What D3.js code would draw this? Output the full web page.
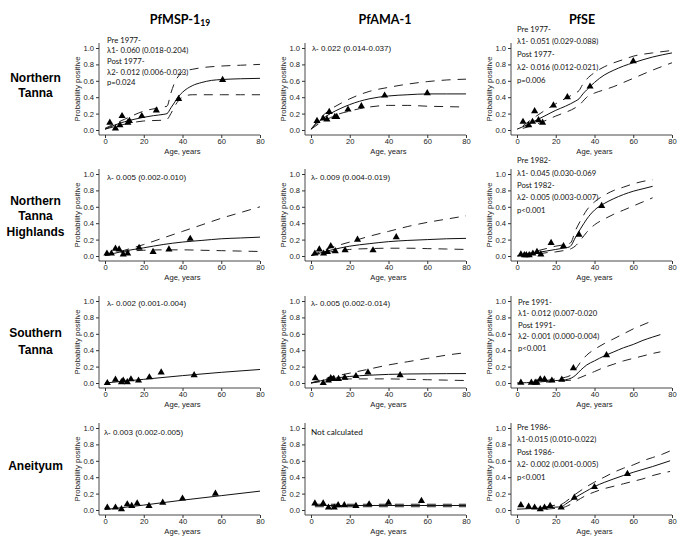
<!DOCTYPE html>
<html><head><meta charset="utf-8">
<script src="https://cdn.jsdelivr.net/npm/d3@7"></script>
<style>body{margin:0;background:#fff}svg{display:block}</style>
</head><body>
<svg id="c" width="685" height="542"></svg>
<script>
// ---------- labels ----------
const columnTitles = ["PfMSP-1", "PfAMA-1", "PfSE"];
const rowLabels = [["Northern","Tanna"],["Northern","Tanna","Highlands"],["Southern","Tanna"],["Aneityum"]];
const xTicks = [0,20,40,60,80];
const yTicks = [0,0.2,0.4,0.6,0.8,1.0];

// ---------- Northern Tanna ----------
const ntMspAge = [2.5,5.4,7.7,8.8,11.8,12.6,19,26.5,38,60.7];
const ntMspPos = [0.09,0.02,0.06,0.17,0.09,0.11,0.17,0.24,0.38,0.61];
const ntMspFitAge = [0,5,10,15,20,25,30,32,34,36,38,40,45,50,55,60,70,80];
const ntMspFit = [0.01,0.06,0.10,0.13,0.155,0.175,0.19,0.2,0.27,0.34,0.41,0.46,0.54,0.58,0.605,0.615,0.625,0.63];
const ntMspCiAge = [0,10,20,30,32,34,36,38,40,45,50,60,70,80];
const ntMspHi = [0.02,0.13,0.23,0.28,0.29,0.45,0.58,0.66,0.71,0.74,0.76,0.78,0.79,0.8];
const ntMspLo = [0.01,0.07,0.11,0.12,0.13,0.2,0.29,0.36,0.4,0.43,0.43,0.43,0.43,0.43];
const ntMspText = ["Pre 1977-","λ1- 0.060 (0.018-0.204)","Post 1977-","λ2- 0.012 (0.006-0.023)","p=0.024"];

const ntAmaAge = [3.1,6.3,8.2,9.4,12.3,13.3,19.1,26,38,60];
const ntAmaPos = [0.11,0.14,0.13,0.22,0.16,0.16,0.25,0.29,0.42,0.45];
const ntAmaFitAge = [0,5,10,15,20,25,30,40,50,60,70,80];
const ntAmaFit = [0.01,0.12,0.2,0.26,0.31,0.35,0.38,0.415,0.43,0.44,0.44,0.44];
const ntAmaHi = [0.01,0.15,0.25,0.32,0.38,0.43,0.47,0.52,0.56,0.59,0.61,0.62];
const ntAmaLo = [0.01,0.09,0.15,0.2,0.23,0.26,0.28,0.3,0.3,0.29,0.285,0.28];
const ntAmaText = ["λ- 0.022 (0.014-0.037)"];

const ntSeAge = [3.1,6,8,9.1,11.1,13.2,18.8,26,37.7,60];
const ntSePos = [0.10,0.06,0.10,0.23,0.12,0.09,0.30,0.40,0.53,0.84];
const ntSeFitAge = [0,5,10,15,20,25,30,32,34,36,40,45,50,55,60,70,80];
const ntSeFit = [0.01,0.06,0.12,0.18,0.24,0.29,0.35,0.38,0.44,0.49,0.58,0.67,0.73,0.78,0.82,0.89,0.94];
const ntSeCiAge = [3,10,20,30,32,34,36,40,45,50,55,60,70,80];
const ntSeHi = [0.05,0.17,0.32,0.45,0.48,0.56,0.62,0.7,0.77,0.82,0.86,0.9,0.94,0.97];
const ntSeLo = [0.02,0.07,0.17,0.27,0.3,0.35,0.4,0.45,0.49,0.53,0.58,0.63,0.73,0.82];
const ntSeText = ["Pre 1977-","λ1- 0.051 (0.029-0.088)","Post 1977-","λ2- 0.016 (0.012-0.021)","p=0.006"];

// ---------- Northern Tanna Highlands ----------
const nthMspAge = [1,3.3,5.4,7.3,9.4,11.7,17.6,24.8,33,44];
const nthMspPos = [0.03,0.03,0.09,0.08,0.02,0.03,0.10,0.05,0.08,0.21];
const nthMspFitAge = [0,10,20,30,40,50,60,70,80];
const nthMspFit = [0.005,0.06,0.1,0.14,0.17,0.19,0.21,0.22,0.23];
const nthMspHi = [0.005,0.07,0.14,0.22,0.3,0.38,0.46,0.53,0.6];
const nthMspLo = [0.005,0.05,0.07,0.075,0.075,0.07,0.065,0.06,0.055];
const nthMspText = ["λ- 0.005 (0.002-0.010)"];

const nthAmaAge = [2,4.3,6.5,8.5,10.2,12.5,17.6,24,32,44];
const nthAmaPos = [0.03,0.08,0.03,0.05,0.12,0.06,0.07,0.2,0.07,0.23];
const nthAmaFitAge = [0,10,20,30,40,50,60,70,80];
const nthAmaFit = [0.005,0.07,0.12,0.15,0.175,0.19,0.2,0.21,0.215];
const nthAmaHi = [0.005,0.1,0.17,0.24,0.3,0.36,0.41,0.45,0.49];
const nthAmaLo = [0.005,0.05,0.08,0.09,0.095,0.095,0.09,0.085,0.08];
const nthAmaText = ["λ- 0.009 (0.004-0.019)"];

const nthSeAge = [2,3.8,4.8,6.3,8.2,10.3,12.3,17.6,24,32,43.7];
const nthSePos = [0.02,0.01,0.01,0.01,0.03,0.05,0.02,0.16,0.12,0.26,0.61];
const nthSeFitAge = [0,5,10,15,20,25,27,28,30,33,36,40,45,50,55,60,65,70];
const nthSeFit = [0,0.02,0.04,0.06,0.08,0.1,0.11,0.13,0.22,0.34,0.45,0.56,0.64,0.7,0.75,0.79,0.82,0.85];
const nthSeCiAge = [3,10,15,20,25,27,28,30,33,36,40,45,50,55,60,65,70];
const nthSeHi = [0.01,0.06,0.09,0.12,0.14,0.15,0.17,0.3,0.44,0.56,0.66,0.74,0.8,0.84,0.88,0.91,0.93];
const nthSeLo = [0,0.02,0.04,0.05,0.07,0.08,0.09,0.12,0.2,0.29,0.38,0.45,0.51,0.56,0.61,0.66,0.71];
const nthSeText = ["Pre 1982-","λ1- 0.045 (0.030-0.069","Post 1982-","λ2- 0.005 (0.003-0.007)","p<0.001"];

// ---------- Southern Tanna ----------
const stMspAge = [1.2,5.4,8.5,9.4,11.5,13.4,17.3,22.9,29,46];
const stMspPos = [0.0,0.04,0.01,0.03,0.01,0.045,0.03,0.07,0.13,0.095];
const stMspFitAge = [0,20,40,60,80];
const stMspFit = [0,0.045,0.09,0.13,0.165];
const stMspText = ["λ- 0.002 (0.001-0.004)"];

const stAmaAge = [2.2,6.3,9,10.2,11.6,14.2,17.4,23.2,29.4,46];
const stAmaPos = [0.06,0.0,0.03,0.06,0.05,0.05,0.065,0.085,0.13,0.095];
const stAmaFitAge = [0,10,20,30,40,50,60,70,80];
const stAmaFit = [0,0.05,0.08,0.095,0.105,0.11,0.112,0.114,0.115];
const stAmaHi = [0,0.07,0.12,0.17,0.22,0.26,0.3,0.34,0.37];
const stAmaLo = [0,0.03,0.05,0.05,0.05,0.045,0.04,0.035,0.03];
const stAmaText = ["λ- 0.005 (0.002-0.014)"];

const stSeAge = [2,7.4,9.4,10.3,12,14.2,18,23.1,29.1,46.2];
const stSePos = [0.005,0.005,0.005,0.005,0.045,0.045,0.03,0.04,0.18,0.34];
const stSeFitAge = [0,10,20,25,28,30,33,36,40,45,50,55,60,65,70,74];
const stSeFit = [0,0.01,0.03,0.04,0.06,0.09,0.16,0.22,0.27,0.33,0.38,0.43,0.47,0.52,0.56,0.59];
const stSeHiAge = [15,20,25,28,30,33,36,40,45,50,55,60,65,70];
const stSeHi = [0.03,0.05,0.07,0.1,0.16,0.26,0.34,0.41,0.48,0.54,0.6,0.66,0.71,0.76];
const stSeLoAge = [15,20,25,28,30,33,36,40,45,50,55,60,65,70,74];
const stSeLo = [0.01,0.02,0.03,0.035,0.045,0.07,0.1,0.14,0.19,0.23,0.27,0.3,0.33,0.36,0.38];
const stSeText = ["Pre 1991-","λ1- 0.012 (0.007-0.020","Post 1991-","λ2- 0.001 (0.000-0.004)","p<0.001"];

// ---------- Aneityum ----------
const anMspAge = [1.2,5.4,8.5,11.5,13.8,16.6,22.7,29.8,40,57];
const anMspPos = [0.03,0.03,0.01,0.07,0.05,0.08,0.05,0.09,0.14,0.2];
const anMspFitAge = [0,20,40,60,80];
const anMspFit = [0.005,0.06,0.12,0.175,0.23];
const anMspText = ["λ- 0.003 (0.002-0.005)"];

const anAmaAge = [2,6.3,9,12,14,17.2,23.2,30,40,57];
const anAmaPos = [0.08,0.08,0.03,0.03,0.06,0.06,0.05,0.07,0.09,0.11];
const anAmaFitAge = [2,80];
const anAmaFit = [0.055,0.055];
const anAmaHi = [0.07,0.07];
const anAmaLo = [0.04,0.04];
const anAmaText = ["Not calculated"];

const anSeAge = [2,6,9.1,12,14.2,17.1,22.8,29.6,40,57];
const anSePos = [0.06,0.04,0.03,0.01,0.03,0.05,0.03,0.15,0.28,0.44];
const anSeFitAge = [0,10,20,23,25,30,35,40,50,60,70,79];
const anSeFit = [0.01,0.02,0.035,0.04,0.07,0.15,0.22,0.285,0.38,0.46,0.53,0.6];
const anSeCiAge = [15,20,23,25,30,35,40,45,50,55,60,65,70,75,79];
const anSeHi = [0.04,0.06,0.07,0.1,0.19,0.27,0.34,0.4,0.46,0.51,0.55,0.6,0.64,0.68,0.72];
const anSeLo = [0.01,0.02,0.025,0.04,0.1,0.17,0.22,0.26,0.29,0.32,0.35,0.38,0.42,0.45,0.47];
const anSeText = ["Pre 1986-","λ1-0.015 (0.010-0.022)","Post 1986-","λ2- 0.002 (0.001-0.005)","p<0.001"];

// ---------- panel table ----------
const panels = [
 {r:0,c:0,age:ntMspAge,pos:ntMspPos,fa:ntMspFitAge,fit:ntMspFit,ha:ntMspCiAge,hi:ntMspHi,la:ntMspCiAge,lo:ntMspLo,text:ntMspText},
 {r:0,c:1,age:ntAmaAge,pos:ntAmaPos,fa:ntAmaFitAge,fit:ntAmaFit,ha:ntAmaFitAge,hi:ntAmaHi,la:ntAmaFitAge,lo:ntAmaLo,text:ntAmaText},
 {r:0,c:2,age:ntSeAge,pos:ntSePos,fa:ntSeFitAge,fit:ntSeFit,ha:ntSeCiAge,hi:ntSeHi,la:ntSeCiAge,lo:ntSeLo,text:ntSeText},
 {r:1,c:0,age:nthMspAge,pos:nthMspPos,fa:nthMspFitAge,fit:nthMspFit,ha:nthMspFitAge,hi:nthMspHi,la:nthMspFitAge,lo:nthMspLo,text:nthMspText},
 {r:1,c:1,age:nthAmaAge,pos:nthAmaPos,fa:nthAmaFitAge,fit:nthAmaFit,ha:nthAmaFitAge,hi:nthAmaHi,la:nthAmaFitAge,lo:nthAmaLo,text:nthAmaText},
 {r:1,c:2,age:nthSeAge,pos:nthSePos,fa:nthSeFitAge,fit:nthSeFit,ha:nthSeCiAge,hi:nthSeHi,la:nthSeCiAge,lo:nthSeLo,text:nthSeText},
 {r:2,c:0,age:stMspAge,pos:stMspPos,fa:stMspFitAge,fit:stMspFit,text:stMspText},
 {r:2,c:1,age:stAmaAge,pos:stAmaPos,fa:stAmaFitAge,fit:stAmaFit,ha:stAmaFitAge,hi:stAmaHi,la:stAmaFitAge,lo:stAmaLo,text:stAmaText},
 {r:2,c:2,age:stSeAge,pos:stSePos,fa:stSeFitAge,fit:stSeFit,ha:stSeHiAge,hi:stSeHi,la:stSeLoAge,lo:stSeLo,text:stSeText},
 {r:3,c:0,age:anMspAge,pos:anMspPos,fa:anMspFitAge,fit:anMspFit,text:anMspText},
 {r:3,c:1,age:anAmaAge,pos:anAmaPos,fa:anAmaFitAge,fit:anAmaFit,ha:anAmaFitAge,hi:anAmaHi,la:anAmaFitAge,lo:anAmaLo,text:anAmaText},
 {r:3,c:2,age:anSeAge,pos:anSePos,fa:anSeFitAge,fit:anSeFit,ha:anSeCiAge,hi:anSeHi,la:anSeCiAge,lo:anSeLo,text:anSeText}
];

// ---------- layout ----------
const colX0 = [105, 311, 517];
const rowY0 = [130, 256, 383, 510];
const plotW = 155, plotH = 82;
const axisCol = "#333";
// annotation layout: [x, first-line center y, line spacing, font family, size]
const annoLayout = {
 "0,0":[107,40,10.7,"Lato",7.7], "0,1":[312,48.3,0,"Liberation Sans",8], "0,2":[517,29,12.75,"Lato",7.7],
 "1,0":[107,176.7,0,"Liberation Sans",8], "1,1":[311,176.7,0,"Liberation Sans",8], "1,2":[517,160.7,12.3,"Lato",7.7],
 "2,0":[107,303,0,"Liberation Sans",8], "2,1":[311,303,0,"Liberation Sans",8], "2,2":[518,302.3,11.5,"Lato",7.7],
 "3,0":[104,431.7,0,"Liberation Sans",8], "3,1":[311,431.7,0,"Lato",8.2], "3,2":[517,427.3,12.5,"Lato",7.7]
};

const svg = d3.select("#c");

// column titles
const titleX = [180, 385, 582];
columnTitles.forEach((t,i)=>{
  const tx = svg.append("text").attr("x",titleX[i]).attr("y",23.5).attr("text-anchor","middle")
    .attr("font-family","Lato").attr("font-weight","bold").attr("font-size",12.5).attr("fill","#000").text(t);
  if(i===0) tx.append("tspan").attr("font-size",8.5).attr("dy",2.5).text("19");
});

// row labels
const rowLabelY = [[82,96.5],[204.5,220,235.5],[337,353.5],[469.5]];
rowLabels.forEach((lines,r)=>{
  lines.forEach((l,k)=>{
    svg.append("text").attr("x",35.5).attr("y",rowLabelY[r][k]).attr("text-anchor","middle")
      .attr("font-family","Liberation Sans").attr("font-weight","bold").attr("font-size",12).attr("fill","#000").text(l);
  });
});

const tri = d3.symbol(d3.symbolTriangle).size(22);

panels.forEach(p=>{
  const x = d3.scaleLinear().domain([0,80]).range([colX0[p.c], colX0[p.c]+plotW]);
  const y = d3.scaleLinear().domain([0,1]).range([rowY0[p.r], rowY0[p.r]-plotH]);
  const g = svg.append("g");
  const ax = x(0)-6, ay = y(0)+5;
  // L-shaped frame
  g.append("line").attr("x1",ax).attr("x2",ax).attr("y1",y(1)-5).attr("y2",ay).attr("stroke",axisCol).attr("stroke-width",0.9);
  g.append("line").attr("x1",ax).attr("x2",x(80)).attr("y1",ay).attr("y2",ay).attr("stroke",axisCol).attr("stroke-width",0.9);
  // y axis
  const ya = g.append("g").attr("transform",`translate(${ax},0)`)
    .call(d3.axisLeft(y).tickValues(yTicks).tickFormat(d3.format(".1f")).tickSize(3).tickPadding(2));
  ya.select(".domain").remove();
  ya.selectAll("line").attr("stroke",axisCol);
  ya.selectAll("text").attr("font-family","Liberation Sans").attr("font-size",7.6).attr("fill","#222");
  // x axis
  const xa = g.append("g").attr("transform",`translate(0,${ay})`)
    .call(d3.axisBottom(x).tickValues(xTicks).tickSize(3).tickPadding(1));
  xa.select(".domain").remove();
  xa.selectAll("line").attr("stroke",axisCol);
  xa.selectAll("text").attr("font-family","Liberation Sans").attr("font-size",7.6).attr("fill","#222");
  // axis titles
  g.append("text").attr("x",x(40)).attr("y",ay+18.5).attr("text-anchor","middle")
    .attr("font-family","Liberation Sans").attr("font-size",7.6).attr("fill","#222").text("Age, years");
  g.append("text").attr("transform",`translate(${ax-19},${y(0.5)}) rotate(-90)`).attr("text-anchor","middle")
    .attr("font-family","Liberation Sans").attr("font-size",7.8).attr("fill","#222").text("Probability positive");

  const line = d3.line().x(d=>x(d[0])).y(d=>y(d[1])).curve(d3.curveMonotoneX);
  // confidence bounds
  if(p.hi){
    g.append("path").attr("d",line(p.ha.map((a,i)=>[a,p.hi[i]]))).attr("fill","none")
      .attr("stroke","#222").attr("stroke-width",1).attr("stroke-dasharray","9,7");
    g.append("path").attr("d",line(p.la.map((a,i)=>[a,p.lo[i]]))).attr("fill","none")
      .attr("stroke","#222").attr("stroke-width",1).attr("stroke-dasharray","9,7");
  }
  // fitted curve
  g.append("path").attr("d",line(p.fa.map((a,i)=>[a,p.fit[i]]))).attr("fill","none")
    .attr("stroke","#111").attr("stroke-width",1);
  // observed points
  g.selectAll("path.pt").data(p.age.map((a,i)=>[a,p.pos[i]])).join("path").attr("class","pt")
    .attr("d",tri).attr("transform",d=>`translate(${x(d[0])},${y(d[1])})`).attr("fill","#000");
  // annotation
  const L = annoLayout[p.r+","+p.c];
  p.text.forEach((t,k)=>{
    g.append("text").attr("x",L[0]).attr("y",L[1]+k*L[2]+L[4]*0.35)
      .attr("font-family",L[3]).attr("font-size",L[4]).attr("fill","#111").text(t);
  });
});
</script>
</body></html>
